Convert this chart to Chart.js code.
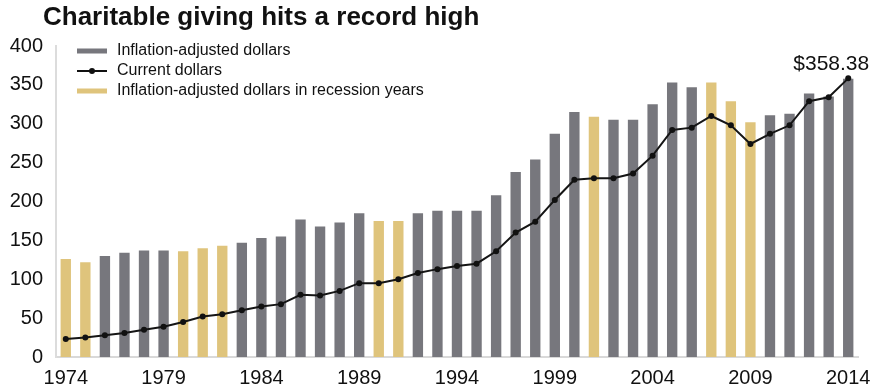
<!DOCTYPE html>
<html>
<head>
<meta charset="utf-8">
<script src="https://cdn.jsdelivr.net/npm/chart.js@4/dist/chart.umd.min.js"></script>
<style>
  html, body { margin: 0; padding: 0; background: #fff; }
  canvas { display: block; }
</style>
</head>
<body>
<canvas id="givingChart" width="874" height="391"></canvas>
<script>
const years = ["1974","1975","1976","1977","1978","1979","1980","1981","1982","1983","1984","1985",
  "1986","1987","1988","1989","1990","1991","1992","1993","1994","1995","1996","1997","1998","1999",
  "2000","2001","2002","2003","2004","2005","2006","2007","2008","2009","2010","2011","2012","2013","2014"];

// billions, inflation-adjusted
const adjustedDollars = [126,122,130,134,137,137,136,140,143,147,153,155,
  177,168,173,185,175,175,185,188,188,188,208,238,254,287,
  315,309,305,305,325,353,347,353,329,302,311,313,339,335,358];

// billions, current dollars
const currentDollars = [23,25,28,31,35,39,45,52,55,60,65,68,
  80,79,85,95,95,100,108,113,117,120,136,160,174,202,
  228,230,230,236,259,292,295,310,298,274,287,298,329,334,358.38];

const recessionYears = ["1974","1975","1980","1981","1982","1990","1991","2001","2007","2008","2009"];

const yTicks = [0,50,100,150,200,250,300,350,400];

const GRAY = "#77777d";
const GOLD = "#dfc47c";
const FONT = "'Liberation Sans', Arial, Helvetica, sans-serif";

const barColors = years.map(y => recessionYears.includes(y) ? GOLD : GRAY);

// title, legend and the end-point callout
const extras = {
  id: "extras",
  afterDraw(chart) {
    const ctx = chart.ctx;
    ctx.save();
    ctx.fillStyle = "#111";
    ctx.textBaseline = "middle";
    ctx.textAlign = "left";
    ctx.font = "bold 26px " + FONT;
    ctx.fillText("Charitable giving hits a record high", 43, 18);

    ctx.font = "16px " + FONT;
    const lx = 77, sw = 30, tx = 117;
    const rows = [51, 71, 91];
    ctx.fillStyle = GRAY;
    ctx.fillRect(lx, rows[0] - 2.5, sw, 5);
    ctx.strokeStyle = "#111";
    ctx.lineWidth = 2;
    ctx.beginPath();
    ctx.moveTo(lx, rows[1]);
    ctx.lineTo(lx + sw, rows[1]);
    ctx.stroke();
    ctx.fillStyle = "#111";
    ctx.beginPath();
    ctx.arc(lx + sw / 2, rows[1], 3, 0, Math.PI * 2);
    ctx.fill();
    ctx.fillStyle = GOLD;
    ctx.fillRect(lx, rows[2] - 2.5, sw, 5);

    ctx.fillStyle = "#111";
    ctx.fillText("Inflation-adjusted dollars", tx, rows[0]);
    ctx.fillText("Current dollars", tx, rows[1]);
    ctx.fillText("Inflation-adjusted dollars in recession years", tx, rows[2]);

    // value label above the last point of the line
    const meta = chart.getDatasetMeta(0);
    const last = meta.data[meta.data.length - 1];
    ctx.font = "21px " + FONT;
    ctx.textAlign = "right";
    ctx.textBaseline = "alphabetic";
    ctx.fillText("$" + currentDollars[currentDollars.length - 1].toFixed(2), last.x + 21, last.y - 8);
    ctx.restore();
  }
};

new Chart("givingChart", {
  type: "bar",
  data: {
    labels: years,
    datasets: [{
      type: "line",
      label: "Current dollars",
      data: currentDollars,
      borderColor: "#151515",
      borderWidth: 2,
      pointRadius: 3,
      pointBackgroundColor: "#111",
      pointBorderWidth: 0,
      tension: 0,
      order: 0
    }, {
      label: "Inflation-adjusted dollars",
      data: adjustedDollars,
      backgroundColor: barColors,
      barPercentage: 0.53,
      categoryPercentage: 1,
      order: 1
    }]
  },
  options: {
    responsive: false,
    devicePixelRatio: 1,
    animation: false,
    layout: { padding: { top: 46, right: 16, left: 0, bottom: 0 } },
    plugins: {
      legend: { display: false },
      tooltip: { enabled: false }
    },
    scales: {
      x: {
        grid: { display: false },
        border: { color: "#d9d9d9", width: 2 },
        ticks: {
          autoSkip: false,
          maxRotation: 0,
          padding: 1,
          color: "#111",
          font: { family: FONT, size: 20 },
          callback: function(v, i) { return (i % 5 === 0) ? years[i] : ""; }
        }
      },
      y: {
        min: 0,
        max: 400,
        afterBuildTicks: function(scale) { scale.ticks = yTicks.map(v => ({ value: v })); },
        afterFit: function(scale) { scale.width = 56; },
        grid: { display: false },
        border: { color: "#dcdcdc", width: 2 },
        ticks: {
          padding: 5,
          color: "#111",
          font: { family: FONT, size: 20 }
        }
      }
    }
  },
  plugins: [extras]
});
</script>
</body>
</html>
